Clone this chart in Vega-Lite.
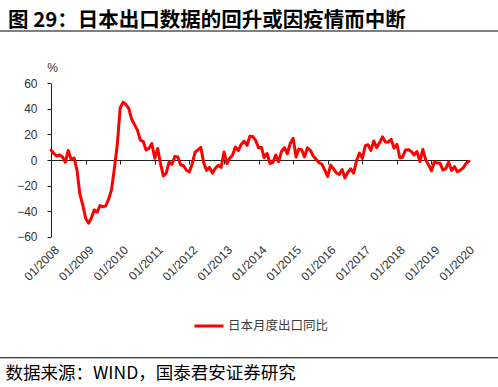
{
"$schema": "https://vega.github.io/schema/vega-lite/v6.json",
"width": 498, "height": 387, "autosize": "none", "padding": 0,
"background": "white",
"config": {"view": {"stroke": null}},
"title": {"text": "图 29：日本出口数据的回升或因疫情而中断", "anchor": "start", "orient": "top", "frame": "group", "offset": -24, "dx": 8, "dy": 23, "font": "Noto Sans CJK SC", "fontSize": 20.5, "fontWeight": "bold", "color": "#000", "baseline": "alphabetic"},
"layer": [
{"data": {"values": [
{"d":"2008/01/01","v":7.8},{"d":"2008/02/01","v":5.0},{"d":"2008/03/01","v":3.0},{"d":"2008/04/01","v":4.0},{"d":"2008/05/01","v":2.5},{"d":"2008/06/01","v":-1.7},{"d":"2008/07/01","v":7.5},{"d":"2008/08/01","v":0.5},{"d":"2008/09/01","v":1.5},{"d":"2008/10/01","v":-7.7},{"d":"2008/11/01","v":-26.7},{"d":"2008/12/01","v":-35.0},
{"d":"2009/01/01","v":-45.7},{"d":"2009/02/01","v":-49.4},{"d":"2009/03/01","v":-45.6},{"d":"2009/04/01","v":-39.1},{"d":"2009/05/01","v":-40.9},{"d":"2009/06/01","v":-35.7},{"d":"2009/07/01","v":-36.5},{"d":"2009/08/01","v":-36.0},{"d":"2009/09/01","v":-30.6},{"d":"2009/10/01","v":-23.2},{"d":"2009/11/01","v":-6.2},{"d":"2009/12/01","v":12.1},
{"d":"2010/01/01","v":40.9},{"d":"2010/02/01","v":45.3},{"d":"2010/03/01","v":43.5},{"d":"2010/04/01","v":40.4},{"d":"2010/05/01","v":32.1},{"d":"2010/06/01","v":27.7},{"d":"2010/07/01","v":23.5},{"d":"2010/08/01","v":15.5},{"d":"2010/09/01","v":14.4},{"d":"2010/10/01","v":7.8},{"d":"2010/11/01","v":9.1},{"d":"2010/12/01","v":12.9},
{"d":"2011/01/01","v":1.4},{"d":"2011/02/01","v":9.0},{"d":"2011/03/01","v":-2.3},{"d":"2011/04/01","v":-12.4},{"d":"2011/05/01","v":-10.3},{"d":"2011/06/01","v":-1.6},{"d":"2011/07/01","v":-3.4},{"d":"2011/08/01","v":2.8},{"d":"2011/09/01","v":2.3},{"d":"2011/10/01","v":-3.7},{"d":"2011/11/01","v":-4.5},{"d":"2011/12/01","v":-8.0},
{"d":"2012/01/01","v":-9.3},{"d":"2012/02/01","v":-2.7},{"d":"2012/03/01","v":5.9},{"d":"2012/04/01","v":7.9},{"d":"2012/05/01","v":10.0},{"d":"2012/06/01","v":-2.3},{"d":"2012/07/01","v":-8.1},{"d":"2012/08/01","v":-5.8},{"d":"2012/09/01","v":-10.3},{"d":"2012/10/01","v":-6.5},{"d":"2012/11/01","v":-4.1},{"d":"2012/12/01","v":-5.8},
{"d":"2013/01/01","v":6.3},{"d":"2013/02/01","v":-2.9},{"d":"2013/03/01","v":1.1},{"d":"2013/04/01","v":3.8},{"d":"2013/05/01","v":10.1},{"d":"2013/06/01","v":7.4},{"d":"2013/07/01","v":12.2},{"d":"2013/08/01","v":14.7},{"d":"2013/09/01","v":11.5},{"d":"2013/10/01","v":18.6},{"d":"2013/11/01","v":18.4},{"d":"2013/12/01","v":15.3},
{"d":"2014/01/01","v":9.5},{"d":"2014/02/01","v":9.8},{"d":"2014/03/01","v":1.8},{"d":"2014/04/01","v":5.1},{"d":"2014/05/01","v":-2.7},{"d":"2014/06/01","v":-2.0},{"d":"2014/07/01","v":3.9},{"d":"2014/08/01","v":-1.3},{"d":"2014/09/01","v":6.9},{"d":"2014/10/01","v":9.6},{"d":"2014/11/01","v":4.9},{"d":"2014/12/01","v":12.9},
{"d":"2015/01/01","v":17.0},{"d":"2015/02/01","v":2.4},{"d":"2015/03/01","v":8.5},{"d":"2015/04/01","v":8.0},{"d":"2015/05/01","v":2.4},{"d":"2015/06/01","v":9.5},{"d":"2015/07/01","v":7.6},{"d":"2015/08/01","v":3.1},{"d":"2015/09/01","v":0.6},{"d":"2015/10/01","v":-2.1},{"d":"2015/11/01","v":-3.3},{"d":"2015/12/01","v":-8.0},
{"d":"2016/01/01","v":-12.9},{"d":"2016/02/01","v":-4.0},{"d":"2016/03/01","v":-6.8},{"d":"2016/04/01","v":-10.1},{"d":"2016/05/01","v":-11.3},{"d":"2016/06/01","v":-7.4},{"d":"2016/07/01","v":-14.0},{"d":"2016/08/01","v":-9.6},{"d":"2016/09/01","v":-6.9},{"d":"2016/10/01","v":-10.3},{"d":"2016/11/01","v":-0.4},{"d":"2016/12/01","v":5.4},
{"d":"2017/01/01","v":1.3},{"d":"2017/02/01","v":11.3},{"d":"2017/03/01","v":12.0},{"d":"2017/04/01","v":7.5},{"d":"2017/05/01","v":14.9},{"d":"2017/06/01","v":9.7},{"d":"2017/07/01","v":13.4},{"d":"2017/08/01","v":18.1},{"d":"2017/09/01","v":14.1},{"d":"2017/10/01","v":14.0},{"d":"2017/11/01","v":16.2},{"d":"2017/12/01","v":9.3},
{"d":"2018/01/01","v":12.2},{"d":"2018/02/01","v":1.8},{"d":"2018/03/01","v":2.1},{"d":"2018/04/01","v":7.8},{"d":"2018/05/01","v":8.1},{"d":"2018/06/01","v":6.7},{"d":"2018/07/01","v":3.9},{"d":"2018/08/01","v":6.6},{"d":"2018/09/01","v":-1.3},{"d":"2018/10/01","v":8.2},{"d":"2018/11/01","v":0.1},{"d":"2018/12/01","v":-3.8},
{"d":"2019/01/01","v":-8.4},{"d":"2019/02/01","v":-1.2},{"d":"2019/03/01","v":-2.4},{"d":"2019/04/01","v":-2.4},{"d":"2019/05/01","v":-7.8},{"d":"2019/06/01","v":-6.7},{"d":"2019/07/01","v":-1.6},{"d":"2019/08/01","v":-8.2},{"d":"2019/09/01","v":-5.2},{"d":"2019/10/01","v":-9.2},{"d":"2019/11/01","v":-7.9},{"d":"2019/12/01","v":-6.3},
{"d":"2020/01/01","v":-2.6},{"d":"2020/02/01","v":-1.0}
]},
"mark": {"type": "line", "strokeWidth": 3, "strokeJoin": "round", "strokeCap": "round"},
"encoding": {
"x": {"field": "d", "type": "temporal",
 "scale": {"domain": [{"year": 2008, "month": 1, "date": 1}, {"year": 2020, "month": 2, "date": 1}], "range": [51, 469]},
 "axis": {"orient": "bottom", "offset": -227, "format": "%m/%Y", "tickCount": {"interval": "year", "step": 1}, "labelAngle": -45, "labelAlign": "right", "labelBaseline": "top", "labelPadding": 80, "labelOffset": 2, "labelOverlap": false, "labelFlush": false, "labelBound": false, "tickSize": 4, "tickColor": "#222", "domainColor": "#222", "domainWidth": 1, "tickWidth": 1, "labelFont": "Liberation Sans", "labelFontSize": 12, "labelColor": "#333", "grid": false,
  "title": "数据来源：WIND，国泰君安证券研究", "titleFont": "Noto Sans CJK SC", "titleFontSize": 17.5, "titleFontWeight": "normal", "titleColor": "#000", "titleX": 5, "titleY": 213, "titleAlign": "left", "titleBaseline": "middle", "titleAnchor": "start", "titleAngle": 0}},
"y": {"field": "v", "type": "quantitative",
 "scale": {"domain": [-60, 60], "range": [236.7, 83.3], "nice": false, "zero": false},
 "axis": {"orient": "left", "offset": -51, "values": [-60, -40, -20, 0, 20, 40, 60], "tickSize": 4, "labelPadding": 10, "tickColor": "#222", "domainColor": "#222", "labelFont": "Liberation Sans", "labelFontSize": 12, "labelColor": "#333", "grid": false,
  "title": "%", "titleAngle": 0, "titleX": 1, "titleY": 67, "titleAlign": "center", "titleBaseline": "middle", "titleFont": "Liberation Sans", "titleFontSize": 12, "titleFontWeight": "normal", "titleColor": "#333"}},
"color": {"datum": "日本月度出口同比", "scale": {"range": ["#ff0000"]},
 "legend": {"orient": "none", "legendX": 193, "legendY": 310, "direction": "horizontal", "title": null, "symbolType": "stroke", "symbolSize": 841, "symbolStrokeWidth": 3, "labelFont": "Noto Sans CJK SC", "labelFontSize": 12.5, "labelColor": "#404040", "labelOffset": 3, "padding": 0}}
}},
{"data": {"values": [{}]}, "mark": {"type": "rule", "color": "#000", "strokeWidth": 1.2}, "encoding": {"y": {"datum": 100.9}}},
{"data": {"values": [{}]}, "mark": {"type": "rule", "color": "#000", "strokeWidth": 1.2}, "encoding": {"y": {"datum": -154.7}}}
]
}
